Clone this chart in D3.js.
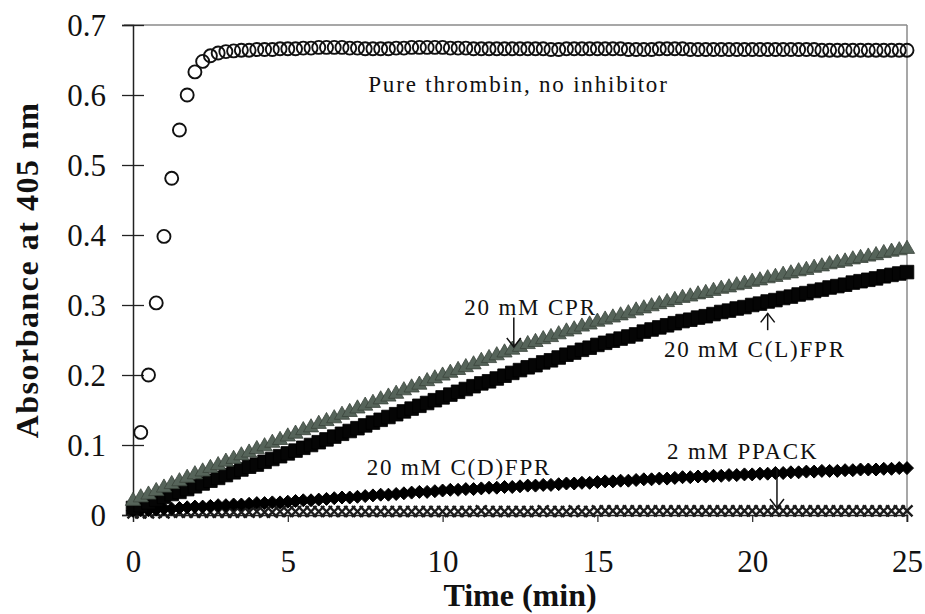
<!DOCTYPE html>
<html>
<head>
<meta charset="utf-8">
<script src="https://cdn.jsdelivr.net/npm/d3@7"></script>
<style>
  body { margin: 0; background: #fff; }
  svg text { font-family: "Liberation Serif", "Times New Roman", serif; fill: #111; }
</style>
</head>
<body>
<div id="chart"></div>
<script>
// Donnees (absorbance a 405 nm, pas de 0.25 min)
var time = [0, 0.25, 0.5, 0.75, 1, 1.25, 1.5, 1.75, 2, 2.25,
  2.5, 2.75, 3, 3.25, 3.5, 3.75, 4, 4.25, 4.5, 4.75,
  5, 5.25, 5.5, 5.75, 6, 6.25, 6.5, 6.75, 7, 7.25,
  7.5, 7.75, 8, 8.25, 8.5, 8.75, 9, 9.25, 9.5, 9.75,
  10, 10.25, 10.5, 10.75, 11, 11.25, 11.5, 11.75, 12, 12.25,
  12.5, 12.75, 13, 13.25, 13.5, 13.75, 14, 14.25, 14.5, 14.75,
  15, 15.25, 15.5, 15.75, 16, 16.25, 16.5, 16.75, 17, 17.25,
  17.5, 17.75, 18, 18.25, 18.5, 18.75, 19, 19.25, 19.5, 19.75,
  20, 20.25, 20.5, 20.75, 21, 21.25, 21.5, 21.75, 22, 22.25,
  22.5, 22.75, 23, 23.25, 23.5, 23.75, 24, 24.25, 24.5, 24.75, 25];

// thrombine pure : commence a t = 0.25
var thrombin = [0.118, 0.200, 0.303, 0.398, 0.481, 0.550, 0.600, 0.633, 0.648,
  0.656, 0.660, 0.662, 0.663, 0.664, 0.664, 0.665, 0.665, 0.665, 0.666,
  0.666, 0.666, 0.667, 0.667, 0.668, 0.668, 0.668, 0.668, 0.667, 0.667,
  0.666, 0.666, 0.666, 0.666, 0.667, 0.667, 0.668, 0.668, 0.668, 0.668,
  0.668, 0.667, 0.667, 0.667, 0.666, 0.666, 0.666, 0.666, 0.666, 0.666,
  0.666, 0.666, 0.666, 0.666, 0.665, 0.665, 0.666, 0.666, 0.666, 0.666,
  0.666, 0.666, 0.666, 0.666, 0.665, 0.665, 0.665, 0.665, 0.666, 0.666,
  0.666, 0.666, 0.665, 0.665, 0.665, 0.665, 0.665, 0.665, 0.665, 0.665,
  0.665, 0.665, 0.665, 0.665, 0.665, 0.665, 0.665, 0.665, 0.665, 0.664,
  0.664, 0.664, 0.664, 0.664, 0.664, 0.664, 0.664, 0.664, 0.664, 0.664, 0.664];

var cpr = [0.020, 0.025, 0.029, 0.034, 0.039, 0.044, 0.048, 0.053, 0.058, 0.062,
  0.067, 0.071, 0.076, 0.080, 0.085, 0.089, 0.094, 0.098, 0.103, 0.107,
  0.112, 0.116, 0.121, 0.125, 0.130, 0.134, 0.138, 0.143, 0.147, 0.152,
  0.156, 0.160, 0.165, 0.169, 0.173, 0.178, 0.182, 0.186, 0.191, 0.195,
  0.199, 0.203, 0.207, 0.211, 0.215, 0.220, 0.224, 0.228, 0.232, 0.236,
  0.240, 0.244, 0.247, 0.251, 0.254, 0.258, 0.262, 0.265, 0.269, 0.272,
  0.276, 0.279, 0.282, 0.285, 0.288, 0.292, 0.295, 0.298, 0.301, 0.304,
  0.307, 0.310, 0.312, 0.315, 0.317, 0.320, 0.323, 0.325, 0.328, 0.330,
  0.333, 0.335, 0.338, 0.340, 0.343, 0.345, 0.348, 0.350, 0.353, 0.355,
  0.358, 0.360, 0.362, 0.365, 0.367, 0.369, 0.371, 0.374, 0.376, 0.378, 0.380];

var clfpr = [0.010, 0.014, 0.018, 0.022, 0.026, 0.030, 0.033, 0.037, 0.041, 0.045,
  0.049, 0.053, 0.057, 0.061, 0.065, 0.069, 0.072, 0.076, 0.080, 0.084,
  0.088, 0.092, 0.096, 0.100, 0.104, 0.108, 0.112, 0.116, 0.120, 0.124,
  0.128, 0.132, 0.136, 0.140, 0.144, 0.148, 0.152, 0.156, 0.160, 0.164,
  0.168, 0.172, 0.176, 0.180, 0.184, 0.188, 0.191, 0.195, 0.199, 0.203,
  0.207, 0.211, 0.214, 0.218, 0.221, 0.225, 0.229, 0.232, 0.236, 0.239,
  0.243, 0.246, 0.249, 0.252, 0.255, 0.258, 0.262, 0.265, 0.268, 0.271,
  0.274, 0.277, 0.279, 0.282, 0.284, 0.287, 0.290, 0.292, 0.295, 0.297,
  0.300, 0.302, 0.305, 0.307, 0.310, 0.312, 0.315, 0.317, 0.320, 0.322,
  0.325, 0.327, 0.329, 0.332, 0.334, 0.336, 0.338, 0.341, 0.343, 0.345, 0.347];

var cdfpr = [0.006, 0.007, 0.007, 0.008, 0.009, 0.009, 0.010, 0.011, 0.012, 0.012,
  0.013, 0.014, 0.014, 0.015, 0.015, 0.016, 0.017, 0.017, 0.018, 0.018,
  0.019, 0.020, 0.021, 0.021, 0.022, 0.023, 0.024, 0.025, 0.025, 0.026,
  0.027, 0.028, 0.029, 0.029, 0.030, 0.031, 0.032, 0.033, 0.033, 0.034,
  0.035, 0.036, 0.036, 0.037, 0.037, 0.038, 0.039, 0.039, 0.040, 0.040,
  0.041, 0.042, 0.042, 0.043, 0.043, 0.044, 0.045, 0.045, 0.046, 0.046,
  0.047, 0.048, 0.048, 0.049, 0.049, 0.050, 0.051, 0.051, 0.052, 0.052,
  0.053, 0.054, 0.054, 0.055, 0.055, 0.056, 0.056, 0.057, 0.057, 0.058,
  0.058, 0.059, 0.059, 0.060, 0.060, 0.061, 0.061, 0.062, 0.062, 0.063,
  0.063, 0.063, 0.064, 0.064, 0.065, 0.065, 0.065, 0.066, 0.066, 0.067, 0.067];

var ppack = [0.003, 0.003, 0.003, 0.004, 0.003, 0.004, 0.004, 0.004, 0.004, 0.004,
  0.004, 0.004, 0.004, 0.004, 0.004, 0.004, 0.005, 0.004, 0.004, 0.005,
  0.005, 0.005, 0.005, 0.005, 0.005, 0.005, 0.005, 0.005, 0.005, 0.005,
  0.005, 0.005, 0.005, 0.005, 0.005, 0.005, 0.005, 0.005, 0.005, 0.005,
  0.005, 0.005, 0.005, 0.005, 0.005, 0.006, 0.005, 0.005, 0.005, 0.005,
  0.005, 0.005, 0.005, 0.006, 0.005, 0.005, 0.005, 0.006, 0.005, 0.005,
  0.006, 0.006, 0.006, 0.006, 0.006, 0.006, 0.006, 0.006, 0.006, 0.006,
  0.006, 0.006, 0.006, 0.006, 0.006, 0.006, 0.006, 0.006, 0.006, 0.006,
  0.006, 0.006, 0.006, 0.006, 0.006, 0.006, 0.006, 0.006, 0.006, 0.006,
  0.006, 0.006, 0.006, 0.006, 0.006, 0.006, 0.006, 0.006, 0.006, 0.006, 0.006];

var xTicks = [0, 5, 10, 15, 20, 25];
var yTicks = [0, 0.1, 0.2, 0.3, 0.4, 0.5, 0.6, 0.7];

// annotations (position du debut du texte, en unites du graphe)
var labels = [
  { text: "Pure thrombin, no inhibitor", t: 7.6, v: 0.604 },
  { text: "20 mM CPR", t: 10.7, v: 0.286 },
  { text: "20 mM C(L)FPR", t: 17.15, v: 0.226 },
  { text: "20 mM C(D)FPR", t: 7.55, v: 0.057 },
  { text: "2 mM PPACK", t: 17.25, v: 0.080 }
];
var arrows = [
  { t: 12.3, from: 0.282, to: 0.240 },
  { t: 20.5, from: 0.264, to: 0.288 },
  { t: 20.8, from: 0.067, to: 0.010 }
];

var W = 925, H = 614;
var x = d3.scaleLinear().domain([0, 25]).range([133, 907]);
var y = d3.scaleLinear().domain([0, 0.7]).range([515, 25]);

var svg = d3.select("#chart").append("svg")
  .attr("width", W)
  .attr("height", H);

// cadre gris (haut et droite)
svg.append("line")
  .attr("x1", x(0) - 9).attr("x2", x(25))
  .attr("y1", y(0.7)).attr("y2", y(0.7))
  .attr("stroke", "#8a8a8a").attr("stroke-width", 1.5);
svg.append("line")
  .attr("x1", x(25)).attr("x2", x(25))
  .attr("y1", y(0.7)).attr("y2", y(0) + 7)
  .attr("stroke", "#8a8a8a").attr("stroke-width", 1.5);

// axe Y
var yAxis = svg.append("g")
  .attr("transform", "translate(" + x(0) + ",0)")
  .call(d3.axisLeft(y).tickValues(yTicks).tickSize(11).tickPadding(16)
    .tickFormat(function (d) { return d === 0 ? "0" : d3.format(".1f")(d); }));
yAxis.select(".domain").attr("stroke", "#222").attr("stroke-width", 1.5);
yAxis.selectAll(".tick line").attr("x2", -11).attr("x1", 11)
  .attr("stroke", "#222").attr("stroke-width", 1.3);
yAxis.selectAll(".tick text")
  .attr("font-size", 31)
  .attr("dy", "0.33em")
  .style("font-family", "Liberation Serif");

// axe X
var xAxis = svg.append("g")
  .attr("transform", "translate(0," + y(0) + ")")
  .call(d3.axisBottom(x).tickValues(xTicks).tickSize(7).tickFormat(d3.format("d")));
xAxis.select(".domain").attr("stroke", "#222").attr("stroke-width", 1.5);
xAxis.selectAll(".tick line").attr("stroke", "#222").attr("stroke-width", 1.2);
xAxis.selectAll(".tick text")
  .attr("font-size", 31)
  .attr("y", 57)
  .attr("dy", 0)
  .style("font-family", "Liberation Serif");
xAxis.selectAll(".tick").filter(function (d) { return d === 0; }).select("line").remove();

// titres des axes
svg.append("text")
  .attr("x", (x(0) + x(25)) / 2)
  .attr("y", 606)
  .attr("text-anchor", "middle")
  .attr("font-size", 32)
  .attr("font-weight", "bold")
  .text("Time (min)");

svg.append("text")
  .attr("transform", "translate(38," + 270 + ") rotate(-90)")
  .attr("text-anchor", "middle")
  .attr("font-size", 32)
  .attr("font-weight", "bold")
  .attr("letter-spacing", 1.5)
  .text("Absorbance at 405 nm");

var plot = svg.append("g");

// 2 mM PPACK : croix
plot.selectAll(".ppack")
  .data(ppack)
  .enter()
  .append("path")
  .attr("class", "ppack")
  .attr("d", "M-5.5,-5.5L5.5,5.5M-5.5,5.5L5.5,-5.5")
  .attr("transform", function (d, i) {
    return "translate(" + x(time[i]) + "," + y(d) + ")";
  })
  .attr("fill", "none")
  .attr("stroke", "#1c1c1c")
  .attr("stroke-width", 2.4);

// 20 mM C(D)FPR : losanges noirs
plot.selectAll(".cdfpr")
  .data(cdfpr)
  .enter()
  .append("path")
  .attr("class", "cdfpr")
  .attr("d", "M0,-6.5L6.5,0L0,6.5L-6.5,0Z")
  .attr("transform", function (d, i) {
    return "translate(" + x(time[i]) + "," + y(d) + ")";
  })
  .attr("fill", "#000")
  .attr("stroke", "#000")
  .attr("stroke-width", 1);

// 20 mM C(L)FPR : carres noirs
plot.selectAll(".clfpr")
  .data(clfpr)
  .enter()
  .append("path")
  .attr("class", "clfpr")
  .attr("d", d3.symbol().type(d3.symbolSquare).size(185))
  .attr("transform", function (d, i) {
    return "translate(" + x(time[i]) + "," + y(d) + ")";
  })
  .attr("fill", "#050505")
  .attr("stroke", "#000")
  .attr("stroke-width", 0.8);

// 20 mM CPR : triangles gris
plot.selectAll(".cpr")
  .data(cpr)
  .enter()
  .append("path")
  .attr("class", "cpr")
  .attr("d", d3.symbol().type(d3.symbolTriangle).size(100))
  .attr("transform", function (d, i) {
    return "translate(" + x(time[i]) + "," + y(d) + ")";
  })
  .attr("fill", "#56645a")
  .attr("stroke", "#3a443b")
  .attr("stroke-width", 0.8);

// thrombine pure : cercles vides
plot.selectAll(".thrombin")
  .data(thrombin)
  .enter()
  .append("circle")
  .attr("class", "thrombin")
  .attr("cx", function (d, i) { return x(time[i + 1]); })
  .attr("cy", function (d) { return y(d); })
  .attr("r", 6.5)
  .attr("fill", "none")
  .attr("stroke", "#111")
  .attr("stroke-width", 1.9);

// etiquettes
svg.selectAll(".lbl")
  .data(labels)
  .enter()
  .append("text")
  .attr("class", "lbl")
  .attr("x", function (d) { return x(d.t); })
  .attr("y", function (d) { return y(d.v); })
  .attr("font-size", 23)
  .attr("letter-spacing", 1.8)
  .text(function (d) { return d.text; });

// fleches
arrows.forEach(function (a) {
  var ax = x(a.t), y1 = y(a.from), y2 = y(a.to);
  var dir = y2 > y1 ? -1 : 1;
  svg.append("line")
    .attr("x1", ax).attr("x2", ax)
    .attr("y1", y1).attr("y2", y2)
    .attr("stroke", "#111").attr("stroke-width", 1.5);
  svg.append("path")
    .attr("d", "M" + (ax - 7) + "," + (y2 + dir * 9) + "L" + ax + "," + y2 + "L" + (ax + 7) + "," + (y2 + dir * 9))
    .attr("fill", "none")
    .attr("stroke", "#111")
    .attr("stroke-width", 1.5);
});
</script>
</body>
</html>
